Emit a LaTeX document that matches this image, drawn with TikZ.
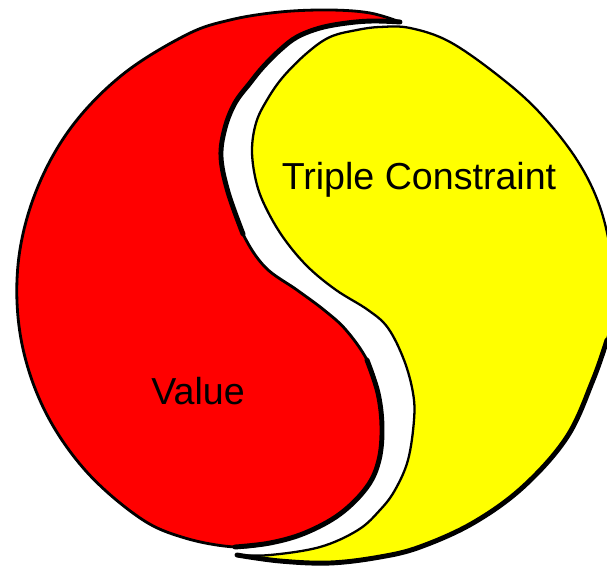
\documentclass[tikz,border=0pt]{standalone}
\usepackage{fontspec}
\setmainfont{Liberation Sans}
\usetikzlibrary{positioning}
\definecolor{yyvermelho}{HTML}{FF0000}
\definecolor{yyamarelo}{HTML}{FFFF00}
\tikzset{
  yymetade/.style={draw=black, line width=1.6pt, line join=round},
  yyborda/.style={draw=black, line width=2.8pt, line cap=round},
  yyrotulo/.style={font=\fontsize{21.4}{25}\selectfont, text=black, inner sep=0pt, anchor=base},
}
\begin{document}
\begin{tikzpicture}[x=0.02cm, y=-0.02cm]
  \useasboundingbox (0,0) rectangle (607,567);
  \clip (0,0) rectangle (607,567);
  % red half
  \draw[yymetade, fill=yyvermelho] plot[smooth, tension=0.6] coordinates {
    (400,22) (370,13) (330,10) (280,12) (230,20) (186,35) (122,75) (70,129)
    (35,194) (18,265) (21,339) (44,409) (85,470) (140,518) (185,538)
    (235,547) (270,543) (305,533) (340,514) (367,487) (379,460) (382,427)
    (378,393) (367,360) (346,330) (324,310) (297,290) (265,267) (243,234)
    (228,192) (221,157) (225,128) (235,103) (250,83) (263,67) (280,50)
    (297,37) (320,28) (347,23) (373,21) (400,22)} -- cycle;
  \draw[yyborda] plot[smooth, tension=0.6] coordinates {
    (243,234) (228,192) (221,157) (225,128) (235,103) (250,83) (263,67)
    (280,50) (297,37) (320,28) (347,23) (373,21) (400,22)};
  \draw[yyborda] plot[smooth, tension=0.6] coordinates {
    (235,547) (270,543) (305,533) (340,514) (367,487) (379,460) (382,427)
    (378,393) (367,360)};
  % yellow half
  \draw[yymetade, line width=1.3pt, fill=yyamarelo] plot[smooth, tension=0.6] coordinates {
    (237,555) (270,555) (320,547) (358,530) (380,510) (395,490) (408,460)
    (414,420) (413,393) (404,360) (388,328) (368,310) (336,290) (308,267)
    (285,240) (268,212) (257,185) (252,152) (256,123) (267,100) (283,77)
    (307,53) (330,37) (357,30) (380,27) (410,28) (450,42) (500,77)
    (540,113) (577,160) (600,207) (612,260) (614,300) (607,340) (593,380)
    (567,437) (523,487) (473,523) (420,547) (380,557) (330,563) (280,561)
    (237,555)} -- cycle;
  \draw[yyborda] plot[smooth, tension=0.6] coordinates {
    (607,340) (593,380) (567,437) (523,487) (473,523) (420,547) (380,557)
    (330,563) (280,561) (237,555)};
  % labels
  \node[yyrotulo] (valor) at (198,404) {Value};
  \node[yyrotulo] (triplice) at (419,190) {Triple Constraint};
\end{tikzpicture}
\end{document}
